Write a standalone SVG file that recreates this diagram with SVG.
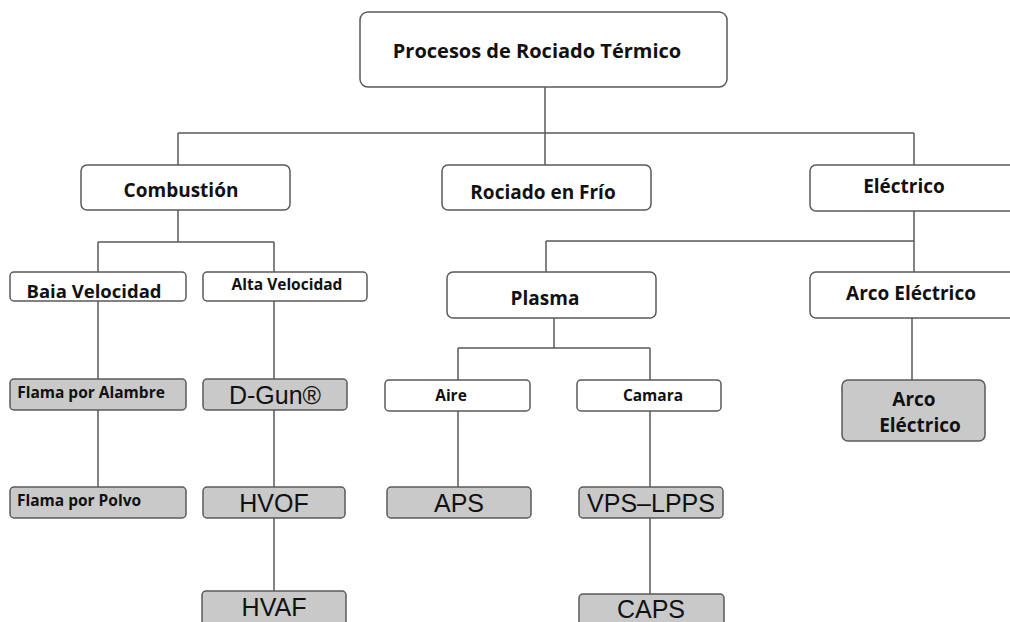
<svg xmlns="http://www.w3.org/2000/svg" width="1010" height="622" viewBox="0 0 1010 622">
<style>
.w{fill:#ffffff;stroke:#5a5a5a;stroke-width:1.5}
.g{fill:#c9c9c9;stroke:#5a5a5a;stroke-width:1.5}
.c{fill:none;stroke:#5a5a5a;stroke-width:1.5}
.b{font-family:"Open Sans",Lato,"Liberation Sans",sans-serif;font-weight:bold;fill:#111;text-anchor:middle}
.a{font-family:"Liberation Sans",Arial,sans-serif;fill:#111;text-anchor:middle;font-size:25px}
</style>
<rect width="1010" height="622" fill="#ffffff"/>
<g id="connectors">
<path class="c" d="M545 87V133M178 133H914M178 133V165M545 133V165M914 133V165"/>
<path class="c" d="M178 210V242M98 242H274M98 242V272M274 242V272"/>
<path class="c" d="M98 301V379M98 410V487M274 301V379M274 410V487M274 518V591"/>
<path class="c" d="M914 211V272M546 241H914M546 241V272"/>
<path class="c" d="M554 318V348M458 348H650M458 348V380M650 348V380"/>
<path class="c" d="M458 411V487M650 411V487M650 518V594M912 318V380"/>
</g>
<g id="root"><rect class="w" x="360" y="12" width="367" height="75" rx="8"/><text class="b" x="537" y="58" font-size="20">Procesos de Rociado Térmico</text></g>
<g id="combustion"><rect class="w" x="81" y="165" width="209" height="45" rx="6"/><text class="b" x="181" y="197" font-size="19">Combustión</text></g>
<g id="frio"><rect class="w" x="442" y="165" width="209" height="45" rx="6"/><text class="b" x="543" y="199" font-size="19">Rociado en Frío</text></g>
<g id="electrico"><rect class="w" x="810" y="165" width="215" height="46" rx="6"/><text class="b" x="904" y="193" font-size="19">Eléctrico</text></g>
<g id="baja"><rect class="w" x="10" y="272" width="176" height="29" rx="4"/><text class="b" x="94" y="298" font-size="18.5">Baia Velocidad</text></g>
<g id="alta"><rect class="w" x="203" y="272" width="164" height="29" rx="4"/><text class="b" x="287" y="290" font-size="15.5">Alta Velocidad</text></g>
<g id="alambre"><rect class="g" x="10" y="379" width="176" height="31" rx="4"/><text class="b" x="91" y="398" font-size="15.5">Flama por Alambre</text></g>
<g id="polvo"><rect class="g" x="10" y="487" width="176" height="31" rx="4"/><text class="b" x="79" y="506" font-size="15.5">Flama por Polvo</text></g>
<g id="dgun"><rect class="g" x="203" y="379" width="144" height="31" rx="4"/><text class="a" x="275" y="404">D-Gun®</text></g>
<g id="hvof"><rect class="g" x="203" y="487" width="142" height="31" rx="4"/><text class="a" x="274" y="512">HVOF</text></g>
<g id="hvaf"><rect class="g" x="202" y="591" width="144" height="40" rx="4"/><text class="a" x="274" y="616">HVAF</text></g>
<g id="plasma"><rect class="w" x="447" y="272" width="209" height="46" rx="6"/><text class="b" x="545" y="305" font-size="19">Plasma</text></g>
<g id="arco"><rect class="w" x="810" y="272" width="215" height="46" rx="6"/><text class="b" x="911" y="300" font-size="19">Arco Eléctrico</text></g>
<g id="aire"><rect class="w" x="385" y="380" width="145" height="31" rx="4"/><text class="b" x="451" y="401" font-size="15.5">Aire</text></g>
<g id="camara"><rect class="w" x="577" y="380" width="144" height="31" rx="4"/><text class="b" x="653" y="401" font-size="15.5">Camara</text></g>
<g id="aps"><rect class="g" x="387" y="487" width="144" height="31" rx="4"/><text class="a" x="459" y="512">APS</text></g>
<g id="vps"><rect class="g" x="579" y="487" width="144" height="31" rx="4"/><text class="a" x="651" y="512">VPS–LPPS</text></g>
<g id="caps"><rect class="g" x="579" y="594" width="145" height="40" rx="4"/><text class="a" x="651" y="618">CAPS</text></g>
<g id="arco2"><rect class="g" x="842" y="380" width="143" height="61" rx="6"/><text class="b" x="914" y="406" font-size="19">Arco</text><text class="b" x="920" y="432" font-size="19">Eléctrico</text></g>
</svg>
